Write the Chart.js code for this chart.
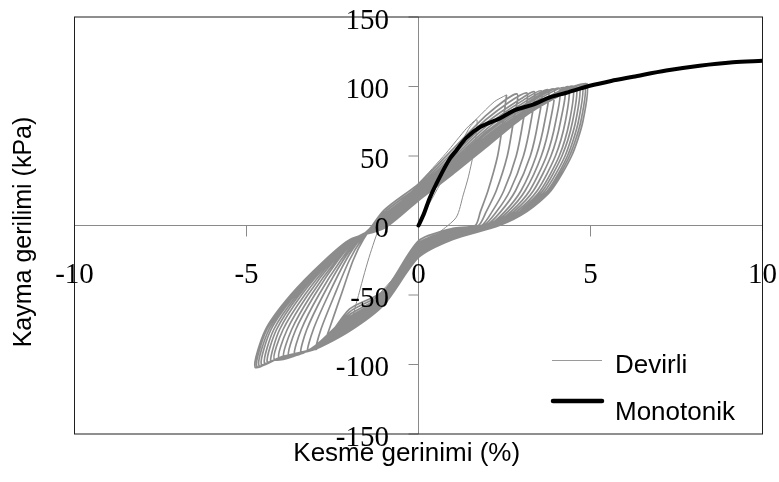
<!DOCTYPE html>
<html>
<head>
<meta charset="utf-8">
<script src="https://cdn.jsdelivr.net/npm/chart.js@4.4.0/dist/chart.umd.min.js"></script>
<style>
  html, body { margin: 0; padding: 0; background: #fff; }
  #wrap { width: 779px; height: 482px; }
</style>
</head>
<body>
<div id="wrap"><canvas id="chart" width="779" height="482"></canvas></div>
<script>
// axis ticks
const xTicks = [-10, -5, 0, 5, 10];
const yTicks = [-150, -100, -50, 0, 50, 100, 150];

// monotonic test (Monotonik)
const monoStrain = [0, 0.15, 0.33, 0.62, 0.91, 1.1, 1.39, 1.8, 2.36, 2.8, 3.33, 3.8, 4.3, 4.98, 5.6, 6.24, 7.2, 8.17, 9.14, 10];
const monoStress = [0, 8, 20, 35, 48, 54, 63, 71, 77, 83, 87, 92, 95.5, 100.5, 104, 107, 111.5, 115, 117.5, 118.5];

// cyclic test (Devirli): first cycle, drawn thin
const firstStrain = [
  0, 0.3, 0.7, 1.0, 1.3, 1.5, 1.7,
  1.62, 1.45, 1.3, 1.1, 0.6, 0, -0.8, -1.4, -1.9,
  -1.72, -1.4, -1.03, -0.5, 0, 0.8, 1.4, 1.7, 2.2, 2.56
];
const firstStress = [
  0, 15, 33, 46, 62, 71, 76,
  55, 35, 22, 6, -5, -16, -40, -56, -68,
  -48, -20, 4, 16, 30, 52, 70, 77, 89, 94
];

// following cycles, one row per half cycle
const devirliStrain = [
  2.56, 2.46, 2.30, 2.02, 1.80, 1.65, 1.0, 0, -1, -2, -2.70,
  -2.60, -2.25, -1.90, -1.60, -1, 0, 1, 2, 2.86,
  2.76, 2.58, 2.26, 1.97, 1.74, 1.0, 0, -1, -2, -2.97,
  -2.84, -2.44, -2.01, -1.65, -1, 0, 1, 2, 3.14,
  3.04, 2.84, 2.48, 2.14, 1.83, 1.0, 0, -1, -2, -3.21,
  -3.06, -2.62, -2.11, -1.70, -1, 0, 1, 2, 3, 3.37,
  3.27, 3.05, 2.66, 2.27, 1.89, 1.0, 0, -1, -2, -3, -3.42,
  -3.25, -2.77, -2.19, -1.74, -1, 0, 1, 2, 3, 3.58,
  3.48, 3.25, 2.82, 2.39, 1.96, 1.0, 0, -1, -2, -3, -3.60,
  -3.41, -2.90, -2.26, -1.77, -1, 0, 1, 2, 3, 3.77,
  3.67, 3.42, 2.98, 2.51, 2.02, 1.0, 0, -1, -2, -3, -3.77,
  -3.57, -3.02, -2.34, -1.81, -1, 0, 1, 2, 3, 3.93,
  3.83, 3.57, 3.10, 2.60, 2.06, 1.0, 0, -1, -2, -3, -3.91,
  -3.69, -3.12, -2.39, -1.83, -1, 0, 1, 2, 3, 4.09,
  3.99, 3.72, 3.23, 2.69, 2.11, 1.0, 0, -1, -2, -3, -4.05,
  -3.82, -3.22, -2.45, -1.85, -1, 0, 1, 2, 3, 4.23,
  4.13, 3.85, 3.34, 2.77, 2.15, 1.0, 0, -1, -2, -3, -4.18,
  -3.94, -3.31, -2.50, -1.89, -1, 0, 1, 2, 3, 4, 4.37,
  4.27, 3.98, 3.45, 2.85, 2.20, 1.0, 0, -1, -2, -3, -4, -4.30,
  -4.04, -3.40, -2.55, -1.91, -1, 0, 1, 2, 3, 4, 4.49,
  4.39, 4.09, 3.54, 2.93, 2.24, 1.0, 0, -1, -2, -3, -4, -4.40,
  -4.13, -3.47, -2.59, -1.92, -1, 0, 1, 2, 3, 4, 4.58,
  4.48, 4.17, 3.61, 2.98, 2.26, 1.0, 0, -1, -2, -3, -4, -4.48,
  -4.21, -3.53, -2.62, -1.94, -1, 0, 1, 2, 3, 4, 4.67,
  4.57, 4.26, 3.68, 3.03, 2.29, 1.0, 0, -1, -2, -3, -4, -4.57,
  -4.29, -3.59, -2.66, -1.96, -1, 0, 1, 2, 3, 4, 4.75,
  4.65, 4.33, 3.75, 3.07, 2.31, 1.0, 0, -1, -2, -3, -4, -4.64,
  -4.35, -3.64, -2.69, -1.97, -1, 0, 1, 2, 3, 4, 4.82,
  4.72, 4.39, 3.80, 3.11, 2.33, 1.0, 0, -1, -2, -3, -4, -4.70,
  -4.41, -3.68, -2.71, -1.98, -1, 0, 1, 2, 3, 4, 4.88,
  4.78, 4.45, 3.85, 3.15, 2.35, 1.0, 0, -1, -2, -3, -4, -4.75,
  -4.45, -3.72, -2.73, -1.99, -1, 0, 1, 2, 3, 4, 4.92
];
const devirliStress = [
  94, 75, 50, 25, 10, 0, -2, -11, -47, -60, -83,
  -75, -50, -25, -10, 11, 30, 55, 80, 94.7,
  75, 50, 25, 10, 0, -3, -12.6, -48.3, -62.1, -89,
  -75, -50, -25, -10, 9.3, 28.4, 52.7, 77, 95.4,
  75, 50, 25, 10, 0, -4, -14, -49.5, -64, -90.6,
  -75, -50, -25, -10, 7.8, 27, 50.5, 74.3, 91.5, 96.1,
  75, 50, 25, 10, 0, -4.8, -15.2, -50.5, -65.6, -86.4, -92,
  -75, -50, -25, -10, 6.5, 25.8, 48.7, 72, 89.5, 96.8,
  75, 50, 25, 10, 0, -5.5, -16.3, -51.4, -67, -86.8, -93.1,
  -75, -50, -25, -10, 5.3, 24.7, 47.1, 69.9, 87.5, 97.6,
  75, 50, 25, 10, 0, -6.2, -17.2, -52.2, -68.3, -87.1, -94,
  -75, -50, -25, -10, 4.2, 23.8, 45.6, 68, 85.8, 98.2,
  75, 50, 25, 10, 0, -6.7, -18.1, -52.9, -69.4, -87.4, -94.8,
  -75, -50, -25, -10, 3.3, 22.9, 44.4, 66.4, 84.5, 98.8,
  75, 50, 25, 10, 0, -7.3, -18.9, -53.6, -70.6, -87.6, -95.7,
  -75, -50, -25, -10, 2.4, 22.1, 43.1, 64.8, 83, 99.2,
  75, 50, 25, 10, 0, -7.8, -19.6, -54.2, -71.5, -87.9, -96.6,
  -75, -50, -25, -10, 1.6, 21.4, 42, 63.4, 81.5, 95.5, 99.6,
  75, 50, 25, 10, 0, -8.2, -20.4, -54.8, -72.5, -88.1, -94.6, -97.4,
  -75, -50, -25, -10, 0.9, 20.6, 41, 62.1, 80.3, 94.5, 100,
  75, 50, 25, 10, 0, -8.6, -21, -55.3, -73.3, -88.3, -94.7, -98,
  -75, -50, -25, -10, 0.2, 20, 40.1, 60.9, 79.6, 93.7, 100.4,
  75, 50, 25, 10, 0, -9, -21.4, -55.7, -73.9, -88.5, -94.7, -98.9,
  -75, -50, -25, -10, -0.3, 19.6, 39.3, 60, 79, 93.3, 100.9,
  75, 50, 25, 10, 0, -9.3, -21.9, -56.1, -74.6, -88.6, -94.8, -99.9,
  -75, -50, -25, -10, -0.8, 19.1, 38.6, 59.1, 78.4, 92.9, 101.3,
  75, 50, 25, 10, 0, -9.6, -22.3, -56.5, -75.1, -88.8, -94.9, -100.7,
  -75, -50, -25, -10, -1.3, 18.7, 38, 58.3, 77.8, 92.6, 101.7,
  75, 50, 25, 10, 0, -9.8, -22.7, -56.8, -75.6, -88.9, -95, -101.4,
  -75, -50, -25, -10, -1.7, 18.3, 37.5, 57.6, 77.4, 92.3, 102,
  75, 50, 25, 10, 0, -10, -23, -57, -76, -89, -95, -102,
  -75, -50, -25, -10, -2, 18, 37, 57, 77, 92, 102.2
];

const toPoints = (xs, ys) => xs.map((x, i) => ({ x: x, y: ys[i] }));

const SERIF = '"Liberation Serif", "Times New Roman", serif';
const SANS = '"Liberation Sans", Arial, sans-serif';

// axes crossing at the origin, frame, labels and legend
const crossAxes = {
  id: 'crossAxes',
  beforeDatasetsDraw(chart) {
    const { ctx, chartArea: a, scales: { x, y } } = chart;
    const x0 = x.getPixelForValue(0);
    const y0 = y.getPixelForValue(0);
    ctx.save();
    ctx.strokeStyle = '#8a8a8a';
    ctx.lineWidth = 1;
    ctx.beginPath();
    ctx.moveTo(a.left, y0); ctx.lineTo(a.right, y0);
    ctx.moveTo(x0, a.top); ctx.lineTo(x0, a.bottom);
    yTicks.forEach(v => {
      const py = y.getPixelForValue(v);
      ctx.moveTo(x0 - 10, py); ctx.lineTo(x0, py);
    });
    xTicks.forEach(v => {
      const px = x.getPixelForValue(v);
      ctx.moveTo(px, y0); ctx.lineTo(px, y0 + 11);
    });
    ctx.stroke();
    ctx.restore();
  },
  afterDatasetsDraw(chart) {
    const { ctx, chartArea: a, scales: { x, y } } = chart;
    const x0 = x.getPixelForValue(0);
    const y0 = y.getPixelForValue(0);
    ctx.save();
    // frame
    ctx.strokeStyle = '#1f1f1f';
    ctx.lineWidth = 1;
    ctx.strokeRect(a.left, a.top, a.right - a.left, a.bottom - a.top);

    // tick labels
    ctx.fillStyle = '#000';
    ctx.font = '29px ' + SERIF;
    ctx.textBaseline = 'alphabetic';
    ctx.textAlign = 'right';
    yTicks.forEach(v => {
      ctx.fillText(String(v), x0 - 29.5, y.getPixelForValue(v) + 11.7);
    });
    ctx.textAlign = 'center';
    xTicks.forEach(v => {
      ctx.fillText(String(v), x.getPixelForValue(v), y0 + 57);
    });

    // axis titles
    ctx.font = '26px ' + SANS;
    ctx.fillText('Kesme gerinimi (%)', 406.7, 460.5);
    ctx.save();
    ctx.translate(31, 232);
    ctx.rotate(-Math.PI / 2);
    ctx.font = '25px ' + SANS;
    ctx.fillText('Kayma gerilimi (kPa)', 0, 0);
    ctx.restore();

    // legend
    ctx.lineCap = 'butt';
    ctx.strokeStyle = '#9a9a9a';
    ctx.lineWidth = 1;
    ctx.beginPath(); ctx.moveTo(552, 360.5); ctx.lineTo(602, 360.5); ctx.stroke();
    ctx.lineCap = 'round';
    ctx.strokeStyle = '#000';
    ctx.lineWidth = 4.5;
    ctx.beginPath(); ctx.moveTo(553, 401); ctx.lineTo(602, 401); ctx.stroke();
    ctx.textAlign = 'left';
    ctx.font = '26px ' + SANS;
    ctx.fillText('Devirli', 615, 373.3);
    ctx.fillText('Monotonik', 615, 420);
    ctx.restore();
  }
};

new Chart(document.getElementById('chart'), {
  type: 'scatter',
  data: {
    datasets: [
      {
        label: 'Monotonik',
        data: toPoints(monoStrain, monoStress),
        showLine: true,
        borderColor: '#000',
        borderWidth: 4,
        borderCapStyle: 'round',
        borderJoinStyle: 'round',
        pointRadius: 0,
        tension: 0.3,
        order: 1
      },
      {
        label: 'Devirli',
        data: toPoints(devirliStrain, devirliStress),
        showLine: true,
        borderColor: '#8c8c8c',
        borderWidth: 1.7,
        pointRadius: 0,
        tension: 0.25,
        order: 2
      },
      {
        label: 'Devirli (1. cevrim)',
        data: toPoints(firstStrain, firstStress),
        showLine: true,
        borderColor: '#8c8c8c',
        borderWidth: 1,
        pointRadius: 0,
        tension: 0.25,
        order: 3
      }
    ]
  },
  options: {
    responsive: false,
    animation: false,
    devicePixelRatio: 1,
    layout: { padding: { left: 74.5, right: 16.5, top: 17, bottom: 48 } },
    plugins: { legend: { display: false }, tooltip: { enabled: false } },
    scales: {
      x: { type: 'linear', min: -10, max: 10, display: false },
      y: { type: 'linear', min: -150, max: 150, display: false }
    }
  },
  plugins: [crossAxes]
});
</script>
</body>
</html>
